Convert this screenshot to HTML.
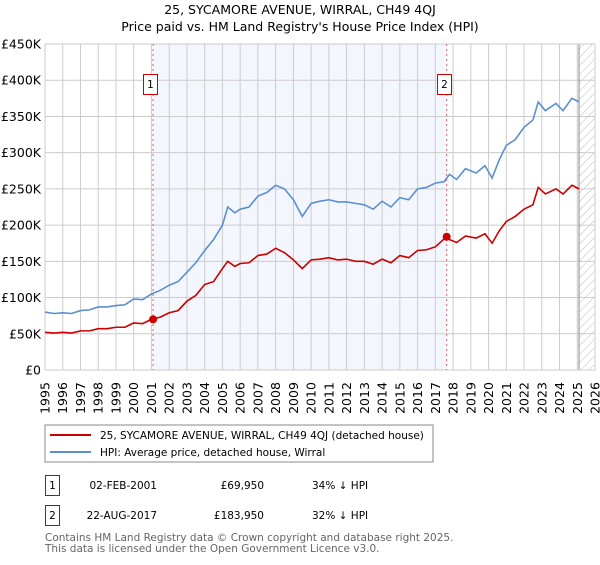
<!DOCTYPE html>
<html><head><meta charset="utf-8"><style>
body{margin:0;background:#fff;font-family:"Liberation Sans","DejaVu Sans",sans-serif;}
svg text{font-family:"DejaVu Sans","Liberation Sans",sans-serif;}
</style></head><body>
<svg id="c" width="600" height="560" xmlns="http://www.w3.org/2000/svg">
<defs><pattern id="hatch" width="6" height="6" patternUnits="userSpaceOnUse" patternTransform="rotate(45)"><line x1="0" y1="0" x2="0" y2="6" stroke="#bbb" stroke-width="1"/></pattern></defs>
<text x="300" y="14" text-anchor="middle" font-size="12.5">25, SYCAMORE AVENUE, WIRRAL, CH49 4QJ</text>
<text x="300" y="31" text-anchor="middle" font-size="12.5">Price paid vs. HM Land Registry's House Price Index (HPI)</text>
<g id="plot"></g>
<g>
<rect x="45" y="425" width="388" height="37" fill="#fff" stroke="#888"/>
<line x1="50" y1="435" x2="91" y2="435" stroke="#cc0000" stroke-width="2"/>
<text x="100" y="439" font-size="10.5">25, SYCAMORE AVENUE, WIRRAL, CH49 4QJ (detached house)</text>
<line x1="50" y1="452" x2="91" y2="452" stroke="#5b8fd0" stroke-width="2"/>
<text x="100" y="456" font-size="10.5">HPI: Average price, detached house, Wirral</text>
</g>
<g font-size="10.5">
<rect x="45.5" y="475.5" width="14" height="20" fill="#fff" stroke="#cc0000"/>
<text x="52.5" y="489" text-anchor="middle">1</text>
<text x="157" y="489" text-anchor="end">02-FEB-2001</text>
<text x="264" y="489" text-anchor="end">£69,950</text>
<text x="312" y="489">34% ↓ HPI</text>
<rect x="45.5" y="505.5" width="14" height="20" fill="#fff" stroke="#cc0000"/>
<text x="52.5" y="519" text-anchor="middle">2</text>
<text x="157" y="519" text-anchor="end">22-AUG-2017</text>
<text x="264" y="519" text-anchor="end">£183,950</text>
<text x="312" y="519">32% ↓ HPI</text>
</g>
<text x="45" y="541" font-size="10.5" fill="#666">Contains HM Land Registry data © Crown copyright and database right 2025.</text>
<text x="45" y="552" font-size="10.5" fill="#666">This data is licensed under the Open Government Licence v3.0.</text>
</svg>
<script>
const yTicks=[0,50,100,150,200,250,300,350,400,450];
const yTickLabels=["£0","£50K","£100K","£150K","£200K","£250K","£300K","£350K","£400K","£450K"];
const xYears=[1995,1996,1997,1998,1999,2000,2001,2002,2003,2004,2005,2006,2007,2008,2009,2010,2011,2012,2013,2014,2015,2016,2017,2018,2019,2020,2021,2022,2023,2024,2025,2026];
const hpiDates=[1995,1995.5,1996,1996.5,1997,1997.5,1998,1998.5,1999,1999.5,2000,2000.5,2001,2001.5,2002,2002.5,2003,2003.5,2004,2004.5,2005,2005.3,2005.7,2006,2006.5,2007,2007.5,2008,2008.5,2009,2009.5,2010,2010.5,2011,2011.5,2012,2012.5,2013,2013.5,2014,2014.5,2015,2015.5,2016,2016.5,2017,2017.5,2017.8,2018.2,2018.7,2019.3,2019.8,2020.2,2020.6,2021,2021.5,2022,2022.5,2022.8,2023.2,2023.8,2024.2,2024.7,2025.1];
const hpiValues=[80,78,79,78,82,83,87,87,89,90,98,97,105,110,117,122,135,148,165,180,200,225,217,222,225,240,245,255,250,235,212,230,233,235,232,232,230,228,222,233,225,238,235,250,252,258,260,270,263,278,272,282,265,290,310,318,335,345,370,358,368,358,375,370];
const priceDates=[1995,1995.5,1996,1996.5,1997,1997.5,1998,1998.5,1999,1999.5,2000,2000.5,2001,2001.5,2002,2002.5,2003,2003.5,2004,2004.5,2005,2005.3,2005.7,2006,2006.5,2007,2007.5,2008,2008.5,2009,2009.5,2010,2010.5,2011,2011.5,2012,2012.5,2013,2013.5,2014,2014.5,2015,2015.5,2016,2016.5,2017,2017.64,2017.8,2018.2,2018.7,2019.3,2019.8,2020.2,2020.6,2021,2021.5,2022,2022.5,2022.8,2023.2,2023.8,2024.2,2024.7,2025.1];
const priceValues=[52,51,52,51,54,54,57,57,59,59,65,64,70,73,79,82,95,103,118,122,140,150,143,147,148,158,160,168,162,152,140,152,153,155,152,153,150,150,146,153,148,158,155,165,166,170,184,180,176,185,182,188,175,192,205,212,222,228,252,243,250,243,255,250];
const saleDates=[2001.09,2017.64];
const saleValues=[69.95,183.95];
const saleLabels=["1","2"];
const L=45,R=595,T=44,B=370,X0=1995,X1=2026,YMAX=450;
const xs=d=>L+(d-X0)/(X1-X0)*(R-L);
const ys=v=>B-v/YMAX*(B-T);
const NS="http://www.w3.org/2000/svg";
const g=document.getElementById('plot');
function mk(tag,attrs,parent){const e=document.createElementNS(NS,tag);for(const k in attrs)e.setAttribute(k,attrs[k]);(parent||g).appendChild(e);return e;}
let e;
e=mk('rect',{x:xs(saleDates[0]),y:T,width:xs(saleDates[1])-xs(saleDates[0]),height:B-T,fill:'#f3f6fd'});


e=mk('rect',{x:xs(2025.1),y:T,width:R-xs(2025.1),height:B-T,fill:'url(#hatch)'});


yTicks.forEach((v,i)=>{
 e=mk('line',{x1:L,x2:R,y1:ys(v),y2:ys(v),stroke:'#cccccc'});
 
 
 e=mk('text',{x:L-4,y:ys(v)+4.5,'text-anchor':'end','font-size':'12.5'});
 e.textContent=yTickLabels[i];
 
 
});
xYears.forEach(yr=>{
 e=mk('line',{x1:xs(yr),x2:xs(yr),y1:T,y2:B,stroke:'#cccccc'});
 
 
 const x=xs(yr)+4.5,y=B+28;
 e=mk('text',{x:x,y:y,'font-size':'12.5','text-anchor':'middle',transform:`rotate(-90 ${x} ${y})`});
 e.textContent=yr;
 
 
});
e=mk('line',{x1:xs(2025.1),x2:xs(2025.1),y1:T,y2:B,stroke:'#888'});


e=mk('rect',{x:L,y:T,width:R-L,height:B-T,fill:'none',stroke:'#cccccc'});


saleDates.forEach((d,i)=>{
 e=mk('line',{x1:xs(d),x2:xs(d),y1:T,y2:B,stroke:'#e06060','stroke-dasharray':'2,3'});
 
 
});
e=mk('polyline',{points:hpiDates.map((d,i)=>xs(d)+','+ys(hpiValues[i])).join(' '),fill:'none',stroke:'#5b8fd0','stroke-width':1.6});


e=mk('polyline',{points:priceDates.map((d,i)=>xs(d)+','+ys(priceValues[i])).join(' '),fill:'none',stroke:'#cc0000','stroke-width':1.6});


saleDates.forEach((d,i)=>{
 e=mk('circle',{cx:xs(d),cy:ys(saleValues[i]),r:4,fill:'#cc0000'});
 
 
 const bx=Math.round(xs(d))-10;
 e=mk('rect',{x:bx+0.5,y:74.5,width:14,height:20,fill:'#fff',stroke:'#cc0000'});
 
 
 e=mk('text',{x:bx+7.5,y:88,'text-anchor':'middle','font-size':'10.5'});
 e.textContent=saleLabels[i];
 
 
});
</script>
</body></html>
